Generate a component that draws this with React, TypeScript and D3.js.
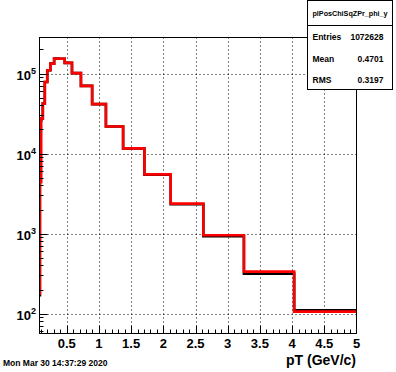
import React from 'react';
import * as d3 from 'd3';

// bin edges of the pT histogram (GeV/c), log-spaced
const binEdges = [0.068, 0.084, 0.104, 0.129, 0.160, 0.198, 0.246, 0.305, 0.378, 0.469, 0.582,
  0.721, 0.895, 1.109, 1.376, 1.706, 2.115, 2.622, 3.252, 4.032, 5.0];

// red histogram (drawn on top)
const redCounts = [178, 4400, 27500, 42200, 78500, 110000, 133000, 154000, 153000, 136000,
  101000, 70000, 41500, 21800, 11600, 5500, 2370, 955, 335, 106];

// black histogram (underneath)
const blackCounts = [170, 26000, 27500, 42200, 78500, 110000, 133000, 154000, 153000, 136000,
  101000, 70000, 41500, 21800, 11600, 5450, 2325, 925, 316, 110];

const xTicks = [0.5, 1, 1.5, 2, 2.5, 3, 3.5, 4, 4.5, 5];
const xTickLabels = ['0.5', '1', '1.5', '2', '2.5', '3', '3.5', '4', '4.5', '5'];
const yDecades = [2, 3, 4, 5];

const statsTitle = 'plPosChiSqZPr_phi_y';
const statsNames = ['Entries', 'Mean', 'RMS'];
const statsValues = ['1072628', '0.4701', '0.3197'];

const xLabel = 'pT (GeV/c)';
const dateText = 'Mon Mar 30 14:37:29 2020';

const W = 396, H = 372;
const frame = {left: 39.5, right: 356.5, top: 37.5, bottom: 333.5};

export default function App() {
  const x = d3.scaleLinear().domain([0.0776, 5]).range([frame.left, frame.right]);
  const y = d3.scaleLog().domain([Math.pow(10, 1.752), Math.pow(10, 5.45)]).range([frame.bottom, frame.top]);

  const stepPath = (counts: number[]) => {
    const pts: [number, number][] = [];
    counts.forEach((c, i) => {
      pts.push([x(binEdges[i]), y(c)]);
      pts.push([x(binEdges[i + 1]), y(c)]);
    });
    return d3.line()(pts) as string;
  };

  const minorX = d3.range(1, 50).map(i => i / 10).filter(v => v >= 0.0776 && v <= 5);
  const [ylo, yhi] = y.domain();
  const minorY: number[] = [];
  for (let d = 1; d <= 5; d++) {
    for (let m = 2; m <= 9; m++) {
      const v = m * Math.pow(10, d);
      if (v >= ylo && v <= yhi) minorY.push(v);
    }
  }

  const axisFont = '"Liberation Sans", Arial, sans-serif';

  return (
    <svg width={W} height={H} style={{position: 'absolute', left: 0, top: 0, background: '#fff'}}>
      <rect x={0} y={0} width={W} height={H} fill="#fff" />
      <defs>
        <clipPath id="frameClip">
          <rect x={frame.left} y={frame.top} width={frame.right - frame.left} height={frame.bottom - frame.top} />
        </clipPath>
      </defs>

      {/* grid */}
      <g stroke="#000" strokeWidth={1} strokeDasharray="1 3">
        {xTicks.slice(0, -1).map(t => (
          <line key={'gx' + t} x1={Math.round(x(t)) + 0.5} x2={Math.round(x(t)) + 0.5} y1={frame.top} y2={frame.bottom} />
        ))}
        {yDecades.map(d => (
          <line key={'gy' + d} x1={frame.left} x2={frame.right} y1={Math.round(y(Math.pow(10, d))) + 0.5} y2={Math.round(y(Math.pow(10, d))) + 0.5} />
        ))}
      </g>

      {/* histograms */}
      <g clipPath="url(#frameClip)" fill="none" strokeLinejoin="miter">
        <path d={stepPath(blackCounts)} stroke="#000" strokeWidth={2.6} />
        <path d={stepPath(redCounts)} stroke="#ff0000" strokeWidth={2.6} />
      </g>

      {/* frame */}
      <rect x={frame.left} y={frame.top} width={frame.right - frame.left} height={frame.bottom - frame.top} fill="none" stroke="#000" strokeWidth={1} />

      {/* ticks */}
      <g stroke="#000" strokeWidth={1}>
        {minorX.map(t => {
          const major = Math.abs(t * 2 - Math.round(t * 2)) < 1e-6;
          const px = Math.round(x(t)) + 0.5;
          return <line key={'tx' + t} x1={px} x2={px} y1={frame.bottom} y2={frame.bottom - (major ? 8 : 4)} />;
        })}
        {minorY.map(v => {
          const py = Math.round(y(v)) + 0.5;
          return <line key={'ty' + v} x1={frame.left} x2={frame.left + 4} y1={py} y2={py} />;
        })}
        {yDecades.map(d => {
          const py = Math.round(y(Math.pow(10, d))) + 0.5;
          return <line key={'tyM' + d} x1={frame.left} x2={frame.left + 8} y1={py} y2={py} />;
        })}
      </g>

      {/* x tick labels */}
      <g fontFamily={axisFont} fontWeight="bold" fontSize={13} textAnchor="middle" fill="#000">
        {xTicks.map((t, i) => (
          <text key={'lx' + t} x={x(t)} y={348}>{xTickLabels[i]}</text>
        ))}
      </g>

      {/* y tick labels */}
      <g fontFamily={axisFont} fontWeight="bold" fill="#000" textAnchor="end">
        {yDecades.map(d => (
          <text key={'ly' + d} x={36} y={y(Math.pow(10, d)) + 6.5} fontSize={13}>
            10<tspan fontSize={9} dy={-6}>{d}</tspan>
          </text>
        ))}
      </g>

      <text x={356} y={365} textAnchor="end" fontFamily={axisFont} fontWeight="bold" fontSize={14}>{xLabel}</text>
      <text x={3} y={365.5} fontFamily={axisFont} fontWeight="bold" fontSize={8.5}>{dateText}</text>

      {/* stats box */}
      <g>
        <rect x={307.5} y={0.5} width={85} height={89} fill="#fff" stroke="#000" strokeWidth={1} />
        <line x1={307.5} x2={392.5} y1={25.5} y2={25.5} stroke="#000" strokeWidth={1} />
        <text x={350} y={16} textAnchor="middle" fontFamily={axisFont} fontWeight="bold" fontSize={7.2}>{statsTitle}</text>
        {statsNames.map((n, i) => (
          <g key={n} fontFamily={axisFont} fontWeight="bold" fontSize={8.5}>
            <text x={312.5} y={40 + i * 21.5}>{n}</text>
            <text x={383.5} y={40 + i * 21.5} textAnchor="end">{statsValues[i]}</text>
          </g>
        ))}
      </g>
    </svg>
  );
}
